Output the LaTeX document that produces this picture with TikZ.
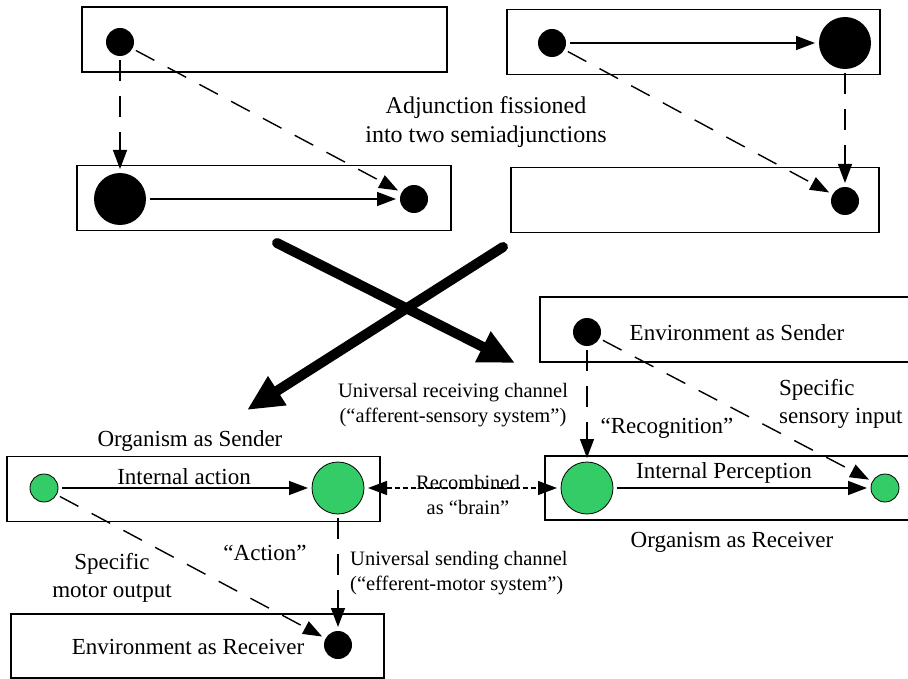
\documentclass[tikz,border=0pt]{standalone}
\usepackage{fontspec}
\setmainfont{Liberation Serif}
\usetikzlibrary{arrows.meta}

\definecolor{cellgreen}{RGB}{51,204,102}
\tikzset{
  >={Triangle[length=19pt,width=14pt]},
  frame/.style={rectangle, draw, line width=1.4pt, minimum height=65pt, inner sep=0pt},
  smallblob/.style={circle, fill=black, inner sep=0pt, minimum size=28pt, outer sep=4pt},
  bigblob/.style={circle, fill=black, inner sep=0pt, minimum size=52pt, outer sep=4pt},
  smallcell/.style={smallblob, draw=black, line width=0.8pt, fill=cellgreen},
  bigcell/.style={bigblob, draw=black, line width=0.8pt, fill=cellgreen},
  link/.style={->, line width=1.4pt},
  flow/.style={->, line width=1.4pt, dash pattern=on 21pt off 15pt},
  cross/.style={line width=10pt, line cap=round, -{Triangle[length=36pt,width=32pt]}},
  lbl/.style={font=\fontsize{23}{28}\selectfont, inner sep=0pt},
  sml/.style={font=\fontsize{20.5}{24.5}\selectfont, inner sep=0pt}
}

\begin{document}
\begin{tikzpicture}[x=1pt,y=-1pt]
      \clip (0,0) rectangle (908,679);

      % first adjunction half
      \node at (264.5,39.5) [frame, minimum width=365pt] (boxA) {};
      \node at (264,198)    [frame, minimum width=374pt] (boxB) {};
      \node at (120,42)  [smallblob] (a1) {};
      \node at (120,199) [bigblob]   (b1) {};
      \node at (414,199) [smallblob] (b2) {};
      \draw[link] (b1)--(b2);
      \draw[flow] (a1)--(b1);
      \draw[flow] (a1)--(b2);

      % second adjunction half
      \node at (693.5,42) [frame, minimum width=373pt] (boxC) {};
      \node at (695,200)  [frame, minimum width=368pt] (boxD) {};
      \node at (552,43)  [smallblob] (c1) {};
      \node at (845,43)  [bigblob]   (c2) {};
      \node at (845,201) [smallblob] (d1) {};
      \draw[link] (c1)--(c2);
      \draw[flow] (c2)--(d1);
      \draw[flow] (c1)--(d1);

      \node at (486,122) [lbl, font=\fontsize{24}{29}\selectfont, align=center] (fission) {Adjunction fissioned\\into two semiadjunctions};

      % the big cross
      \coordinate (xa) at (277,243);
      \coordinate (xb) at (515,363);
      \coordinate (xc) at (503,247);
      \coordinate (xd) at (247,410);
      \draw[cross] (xa)--(xb);
      \draw[cross] (xc)--(xd);

      % receiving side
      \node at (727.5,329.5) [frame, minimum width=375pt] (boxE) {};
      \node at (730,488)     [frame, minimum width=370pt, minimum height=64pt] (boxG) {};
      \node at (587,332) [smallblob] (e1) {};
      \node at (587,488) [bigcell]   (g1) {};
      \node at (885,488) [smallcell] (g2) {};
      \draw[link] (g1)--(g2);
      \draw[flow] (e1)--(g1);
      \draw[flow] (e1)--(g2);

      \node at (737,333) [lbl] (envsend) {Environment as Sender};
      \node at (724,473) [lbl] (intperc) {Internal Perception};
      \node at (732,542) [lbl] (orgrec)  {Organism as Receiver};
      \node at (779,404) [lbl, anchor=west, align=left] (sensin) {Specific\\sensory input};
      \node at (453,405) [sml, align=center] (recvchan) {Universal receiving channel\\(“afferent-sensory system”)};
      \node at (667,428) [lbl] (recog) {“Recognition”};

      % sending side
      \node at (193.5,489) [frame, minimum width=373pt] (boxF) {};
      \node at (197.5,646) [frame, minimum width=373pt, minimum height=64pt] (boxH) {};
      \node at (44,488)  [smallcell] (f1) {};
      \node at (338,488) [bigcell]   (f2) {};
      \node at (338,645) [smallblob] (h1) {};
      \draw[link] (f1)--(f2);
      \draw[flow] (f2)--(h1);
      \draw[flow] (f1)--(h1);

      \node at (190,441) [lbl] (orgsend) {Organism as Sender};
      \node at (184,477) [lbl] (intact)  {Internal action};
      \node at (265,553) [lbl] (action)  {“Action”};
      \node at (112,578) [lbl, align=center] (motout) {Specific\\motor output};
      \node at (350,573) [sml, anchor=west, align=left] (sendchan) {Universal sending channel\\(“efferent-motor system”)};
      \node at (188,647) [lbl] (envrec) {Environment as Receiver};

      % brain link
      \draw[<->, line width=1.3pt, dash pattern=on 5pt off 3pt] (f2)--(g1);
      \node at (468,495) [sml, align=center] (brain) {Recombined\\as “brain”};
\end{tikzpicture}
\end{document}
